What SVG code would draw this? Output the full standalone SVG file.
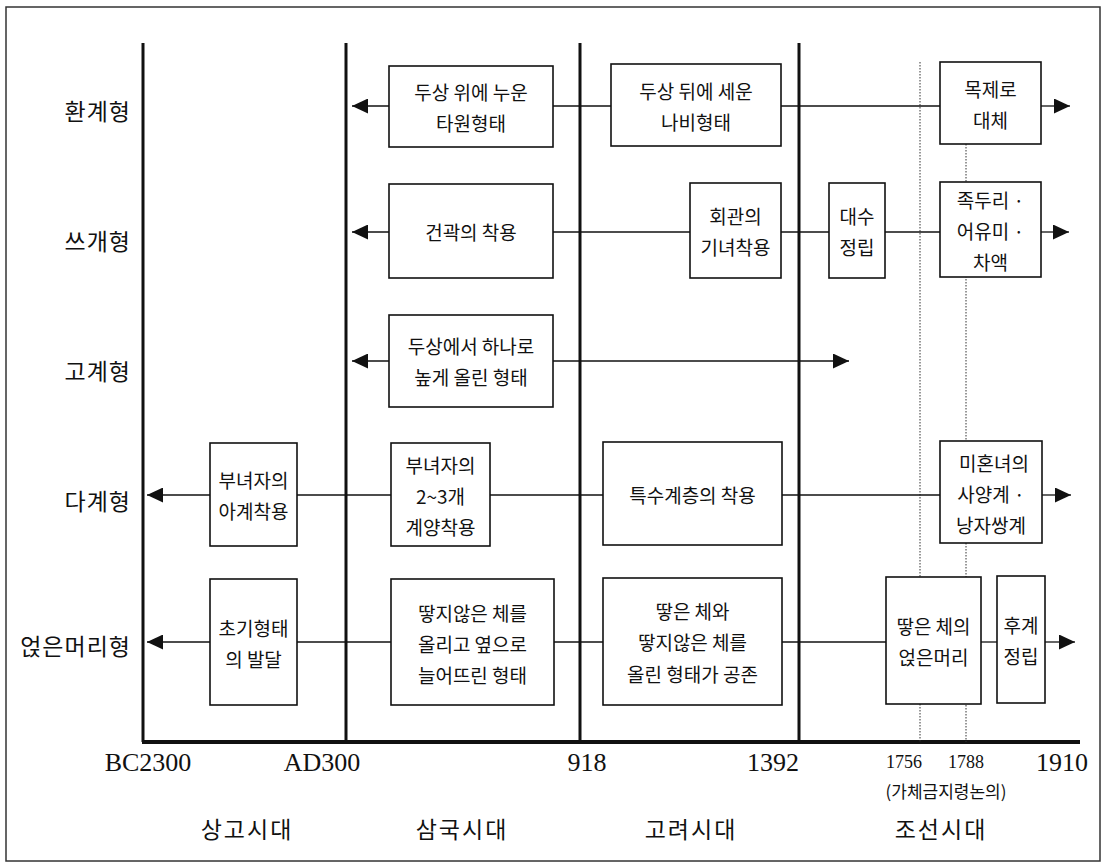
<svg xmlns="http://www.w3.org/2000/svg" width="1103" height="866" viewBox="0 0 1103 866">
<defs>
<style>
.bx{fill:#fff;stroke:#111;stroke-width:1.6}
.bt{font-family:"Noto Sans CJK KR","Noto Sans",sans-serif;font-size:19px;fill:#111;text-anchor:middle;dominant-baseline:central}
.rl{font-family:"Noto Sans CJK KR","Noto Sans",sans-serif;font-size:23px;fill:#111;text-anchor:end;dominant-baseline:central;letter-spacing:1px}
.era{font-family:"Noto Sans CJK KR","Noto Sans",sans-serif;font-size:23px;fill:#111;text-anchor:middle;dominant-baseline:central;letter-spacing:2px}
.num{font-family:"Liberation Serif",serif;font-size:26px;fill:#111;text-anchor:middle;dominant-baseline:central}
.nums{font-family:"Liberation Serif",serif;font-size:18px;fill:#111;text-anchor:middle;dominant-baseline:central}
.note{font-family:"Noto Sans CJK KR","Noto Sans",sans-serif;font-size:17px;fill:#111;text-anchor:middle;dominant-baseline:central}
.era-line{stroke:#111;stroke-width:3;fill:none}
.dot{stroke:#333;stroke-width:1;stroke-dasharray:1.5 1.5;fill:none}
.cn{stroke:#111;stroke-width:1.3;fill:none}
.ar{stroke:#111;stroke-width:1.3;fill:none;marker-end:url(#ah)}
</style>
<marker id="ah" markerUnits="userSpaceOnUse" markerWidth="16" markerHeight="15" refX="16" refY="7.5" orient="auto">
<path d="M0,0 L16,7.5 L0,15 Z" fill="#111"/>
</marker>
</defs>
<rect x="0" y="0" width="1103" height="866" fill="#fff"/>
<rect x="6" y="7" width="1094" height="854" fill="none" stroke="#333" stroke-width="1.5"/>

<g id="axes">
<line class="era-line" x1="143" y1="43" x2="143" y2="742"/>
<line class="era-line" x1="346" y1="43" x2="346" y2="742"/>
<line class="era-line" x1="580" y1="43" x2="580" y2="742"/>
<line class="era-line" x1="799" y1="43" x2="799" y2="742"/>
<line x1="142" y1="742" x2="1080" y2="742" stroke="#111" stroke-width="4"/>
<line class="dot" x1="920" y1="62" x2="920" y2="742"/>
<line class="dot" x1="966" y1="144" x2="966" y2="742"/>
</g>

<g id="connectors">
<line class="ar" x1="389" y1="106" x2="352" y2="106"/>
<line class="cn" x1="553" y1="106" x2="611" y2="106"/>
<line class="cn" x1="781" y1="106" x2="940" y2="106"/>
<line class="ar" x1="1041" y1="106" x2="1070" y2="106"/>

<line class="ar" x1="389" y1="232" x2="352" y2="232"/>
<line class="cn" x1="553" y1="232" x2="690" y2="232"/>
<line class="cn" x1="781" y1="232" x2="829" y2="232"/>
<line class="cn" x1="885" y1="232" x2="940" y2="232"/>
<line class="ar" x1="1041" y1="232" x2="1069" y2="232"/>

<line class="ar" x1="389" y1="361" x2="352" y2="361"/>
<line class="ar" x1="553" y1="361" x2="849" y2="361"/>

<line class="ar" x1="210" y1="495" x2="147" y2="495"/>
<line class="cn" x1="297" y1="495" x2="391" y2="495"/>
<line class="cn" x1="490" y1="495" x2="603" y2="495"/>
<line class="cn" x1="782" y1="495" x2="940" y2="495"/>
<line class="ar" x1="1042" y1="495" x2="1071" y2="495"/>

<line class="ar" x1="210" y1="642" x2="147" y2="642"/>
<line class="cn" x1="297" y1="642" x2="391" y2="642"/>
<line class="cn" x1="554" y1="642" x2="603" y2="642"/>
<line class="cn" x1="782" y1="642" x2="886" y2="642"/>
<line class="cn" x1="981" y1="642" x2="997" y2="642"/>
<line class="ar" x1="1045" y1="642" x2="1075" y2="642"/>
</g>

<g id="row-labels">
<text class="rl" x="131" y="110">환계형</text>
<text class="rl" x="131" y="240">쓰개형</text>
<text class="rl" x="131" y="370">고계형</text>
<text class="rl" x="131" y="500">다계형</text>
<text class="rl" x="131" y="645">얹은머리형</text>
</g>

<g id="b1"><rect class="bx" x="389" y="66" width="164" height="81"/>
<text class="bt" x="471" y="91">두상 위에 누운</text><text class="bt" x="471" y="122">타원형태</text></g>
<g id="b2"><rect class="bx" x="611" y="64" width="170" height="82"/>
<text class="bt" x="696" y="90">두상 뒤에 세운</text><text class="bt" x="696" y="121">나비형태</text></g>
<g id="b3"><rect class="bx" x="940" y="62" width="101" height="82"/>
<text class="bt" x="990.5" y="88">목제로</text><text class="bt" x="990.5" y="119">대체</text></g>

<g id="b4"><rect class="bx" x="389" y="184" width="164" height="94"/>
<text class="bt" x="471" y="231">건곽의 착용</text></g>
<g id="b5"><rect class="bx" x="690" y="183" width="91" height="95"/>
<text class="bt" x="735.5" y="215">회관의</text><text class="bt" x="735.5" y="246">기녀착용</text></g>
<g id="b6"><rect class="bx" x="829" y="183" width="56" height="95"/>
<text class="bt" x="857" y="215">대수</text><text class="bt" x="857" y="246">정립</text></g>
<g id="b7"><rect class="bx" x="940" y="182" width="101" height="95"/>
<text class="bt" x="990.5" y="199">족두리 ·</text><text class="bt" x="990.5" y="230">어유미 ·</text><text class="bt" x="990.5" y="261">차액</text></g>

<g id="b8"><rect class="bx" x="389" y="315" width="164" height="92"/>
<text class="bt" x="471" y="345.5">두상에서 하나로</text><text class="bt" x="471" y="376.5">높게 올린 형태</text></g>

<g id="b9"><rect class="bx" x="210" y="443" width="87" height="103"/>
<text class="bt" x="253.5" y="479">부녀자의</text><text class="bt" x="253.5" y="510">아계착용</text></g>
<g id="b10"><rect class="bx" x="391" y="443" width="99" height="103"/>
<text class="bt" x="440.5" y="464">부녀자의</text><text class="bt" x="440.5" y="495">2~3개</text><text class="bt" x="440.5" y="526">계양착용</text></g>
<g id="b11"><rect class="bx" x="603" y="442" width="179" height="103"/>
<text class="bt" x="692.5" y="494">특수계층의 착용</text></g>
<g id="b12"><rect class="bx" x="940" y="441" width="102" height="102"/>
<text class="bt" x="994" y="462">미혼녀의</text><text class="bt" x="991" y="493">사양계 ·</text><text class="bt" x="991" y="524">낭자쌍계</text></g>

<g id="b13"><rect class="bx" x="210" y="579" width="87" height="126"/>
<text class="bt" x="253.5" y="627">초기형태</text><text class="bt" x="253.5" y="658">의 발달</text></g>
<g id="b14"><rect class="bx" x="391" y="579" width="163" height="126"/>
<text class="bt" x="472.5" y="612">땋지않은 체를</text><text class="bt" x="472.5" y="643">올리고 옆으로</text><text class="bt" x="472.5" y="674">늘어뜨린 형태</text></g>
<g id="b15"><rect class="bx" x="603" y="578" width="179" height="127"/>
<text class="bt" x="692.5" y="610">땋은 체와</text><text class="bt" x="692.5" y="641">땋지않은 체를</text><text class="bt" x="692.5" y="673">올린 형태가 공존</text></g>
<g id="b16"><rect class="bx" x="886" y="577" width="95" height="127"/>
<text class="bt" x="933.5" y="625">땋은 체의</text><text class="bt" x="933.5" y="656">얹은머리</text></g>
<g id="b17"><rect class="bx" x="997" y="576" width="48" height="127"/>
<text class="bt" x="1021" y="624">후계</text><text class="bt" x="1021" y="655">정립</text></g>

<g id="axis-labels">
<text class="num" x="148" y="762">BC2300</text>
<text class="num" x="322" y="762">AD300</text>
<text class="num" x="587" y="762">918</text>
<text class="num" x="773" y="762">1392</text>
<text class="nums" x="904" y="762">1756</text>
<text class="nums" x="966" y="762">1788</text>
<text class="num" x="1062" y="762">1910</text>
<text class="note" x="946" y="790">(가체금지령논의)</text>
<text class="era" x="247" y="828">상고시대</text>
<text class="era" x="462" y="828">삼국시대</text>
<text class="era" x="691" y="828">고려시대</text>
<text class="era" x="941" y="828">조선시대</text>
</g>
</svg>
